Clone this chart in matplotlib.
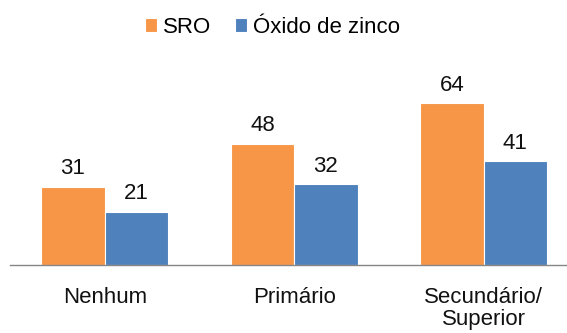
import matplotlib
matplotlib.use("Agg")
import matplotlib.pyplot as plt
import numpy as np

categories = ["Nenhum", "Primário", "Secundário/\nSuperior"]
sro = [31, 48, 64]
oxido = [21, 32, 41]
series_names = ["SRO", "Óxido de zinco"]

orange = "#F79646"
blue = "#4F81BD"
text_color = "#111111"

plt.rcParams["font.family"] = ["Liberation Sans", "DejaVu Sans"]

fig = plt.figure(figsize=(5.67, 3.33), dpi=100)
ax = fig.add_axes([10 / 567, 0.204, 557 / 567, 0.532])

x = np.arange(len(categories))
w = 0.335
b1 = ax.bar(x - w / 2, sro, w, color=orange, edgecolor="white", linewidth=0.8, label=series_names[0])
b2 = ax.bar(x + w / 2, oxido, w, color=blue, edgecolor="white", linewidth=0.8, label=series_names[1])

for bars, vals in ((b1, sro), (b2, oxido)):
    for r, v in zip(bars, vals):
        ax.annotate(str(v), (r.get_x() + r.get_width() / 2, v),
                    xytext=(0, 13), textcoords="offset points",
                    ha="center", va="center", fontsize=16, color=text_color)

ax.set_xlim(-0.5, 2.44)
ax.set_ylim(0, 70)
ax.set_yticks([])
ax.set_xticks(x)
ax.set_xticklabels(categories, fontsize=16, color=text_color, linespacing=1.05)
ax.tick_params(axis="x", length=0, pad=16)
for s in ("top", "right", "left"):
    ax.spines[s].set_visible(False)
ax.spines["bottom"].set_color("#868686")
ax.spines["bottom"].set_linewidth(1.0)

fig.legend(handles=[b1, b2], labels=series_names, loc="center",
           bbox_to_anchor=(0.481, 0.918), ncol=2, frameon=False,
           fontsize=16, handlelength=0.55, handleheight=0.55,
           handletextpad=0.28, columnspacing=1.05)

fig.savefig("out.png", dpi=100, facecolor="white")
